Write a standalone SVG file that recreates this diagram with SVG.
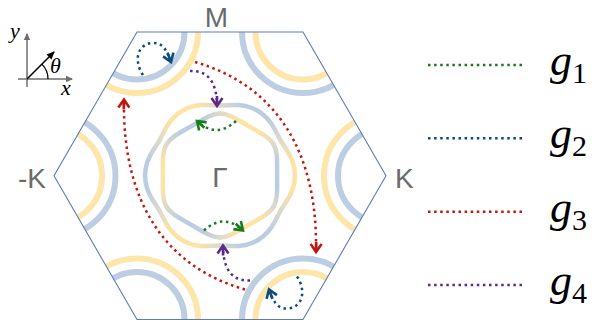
<svg xmlns="http://www.w3.org/2000/svg" width="592" height="324" viewBox="0 0 592 324">
<style>
.arcY{fill:none;stroke:#fee6ab;stroke-width:6}
.arcB{fill:none;stroke:#bdcee2;stroke-width:6}
.fs{fill:none;stroke-width:4.5;stroke-linecap:round;stroke-linejoin:round}
.dot{fill:none;stroke-width:2.5;stroke-dasharray:2.5 3.6}
.g1{stroke:#1a7b1f}.g2{stroke:#0b4d7e}.g3{stroke:#c0180d}.g4{stroke:#5c2b88}
.ax{fill:none;stroke:#6e6e6e;stroke-width:1.5}
</style>
<defs>
<clipPath id="hexclip"><polygon points="137,32 303,32 386,175.75 303,319.5 137,319.5 54,175.75"/></clipPath>
<linearGradient id="gy"><stop offset="0" stop-color="#dcdacb"/><stop offset="0.28" stop-color="#fee3a4"/><stop offset="0.72" stop-color="#fee3a4"/><stop offset="1" stop-color="#dcdacb"/></linearGradient>
<linearGradient id="gb"><stop offset="0" stop-color="#dcdacb"/><stop offset="0.28" stop-color="#bccde2"/><stop offset="0.72" stop-color="#bccde2"/><stop offset="1" stop-color="#dcdacb"/></linearGradient>
<linearGradient id="oA" href="#gy" gradientUnits="userSpaceOnUse" x1="280.62" y1="210.5" x2="280.62" y2="140.5"/>
<linearGradient id="oB" href="#gb" gradientUnits="userSpaceOnUse" x1="280.62" y1="140.5" x2="220" y2="105.5"/>
<linearGradient id="oC" href="#gy" gradientUnits="userSpaceOnUse" x1="220" y1="105.5" x2="159.38" y2="140.5"/>
<linearGradient id="oD" href="#gb" gradientUnits="userSpaceOnUse" x1="159.38" y1="140.5" x2="159.38" y2="210.5"/>
<linearGradient id="oE" href="#gy" gradientUnits="userSpaceOnUse" x1="159.38" y1="210.5" x2="220" y2="245.5"/>
<linearGradient id="oF" href="#gb" gradientUnits="userSpaceOnUse" x1="220" y1="245.5" x2="280.62" y2="210.5"/>
<linearGradient id="iA" href="#gb" gradientUnits="userSpaceOnUse" x1="273.69" y1="206.5" x2="273.69" y2="144.5"/>
<linearGradient id="iB" href="#gy" gradientUnits="userSpaceOnUse" x1="273.69" y1="144.5" x2="220" y2="113.5"/>
<linearGradient id="iC" href="#gb" gradientUnits="userSpaceOnUse" x1="220" y1="113.5" x2="166.31" y2="144.5"/>
<linearGradient id="iD" href="#gy" gradientUnits="userSpaceOnUse" x1="166.31" y1="144.5" x2="166.31" y2="206.5"/>
<linearGradient id="iE" href="#gb" gradientUnits="userSpaceOnUse" x1="166.31" y1="206.5" x2="220" y2="237.5"/>
<linearGradient id="iF" href="#gy" gradientUnits="userSpaceOnUse" x1="220" y1="237.5" x2="273.69" y2="206.5"/>
<marker id="m1" markerUnits="userSpaceOnUse" orient="auto" overflow="visible"><path d="M-8,-5.5 L0,0 L-8,5.5 M-10,0 L0,0" fill="none" stroke="#1a7b1f" stroke-width="2.6"/></marker>
<marker id="m2" markerUnits="userSpaceOnUse" orient="auto" overflow="visible"><path d="M-8,-5.5 L0,0 L-8,5.5 M-10,0 L0,0" fill="none" stroke="#0b4d7e" stroke-width="2.6"/></marker>
<marker id="m3" markerUnits="userSpaceOnUse" orient="auto" overflow="visible"><path d="M-8,-5.5 L0,0 L-8,5.5 M-10,0 L0,0" fill="none" stroke="#c0180d" stroke-width="2.6"/></marker>
<marker id="m4" markerUnits="userSpaceOnUse" orient="auto" overflow="visible"><path d="M-8,-5.5 L0,0 L-8,5.5 M-10,0 L0,0" fill="none" stroke="#5c2b88" stroke-width="2.6"/></marker>
<marker id="mg" markerUnits="userSpaceOnUse" orient="auto" overflow="visible"><path d="M1,0 L-6,-3.2 L-6,3.2 Z" fill="#6e6e6e"/></marker>
<marker id="mk" markerUnits="userSpaceOnUse" orient="auto" overflow="visible"><path d="M1,0 L-7,-3.5 L-7,3.5 Z" fill="#000"/></marker>
</defs>

<g id="axes">
<line class="ax" x1="27" y1="87" x2="27" y2="34" marker-end="url(#mg)"/>
<line class="ax" x1="18" y1="79" x2="72" y2="79" marker-end="url(#mg)"/>
<line x1="27" y1="79" x2="54" y2="52" stroke="#000" stroke-width="1.6" marker-end="url(#mk)"/>
<path d="M48,79 A21,21 0 0 0 41.85,64.15" fill="none" stroke="#000" stroke-width="1.3"/>
<text font-family="'Liberation Serif', serif" font-style="italic" x="10" y="38" font-size="22">y</text>
<text font-family="'Liberation Serif', serif" font-style="italic" x="61" y="95" font-size="22">x</text>
<text font-family="'Liberation Serif', serif" font-style="italic" x="50" y="73" font-size="22">θ</text>
</g>

<g id="valleys" clip-path="url(#hexclip)">
<circle class="arcB" cx="137" cy="32" r="47.5"/><circle class="arcY" cx="137" cy="32" r="61"/>
<circle class="arcY" cx="303" cy="32" r="47.5"/><circle class="arcB" cx="303" cy="32" r="61"/>
<circle class="arcB" cx="386" cy="175.75" r="48"/><circle class="arcY" cx="386" cy="175.75" r="62"/>
<circle class="arcY" cx="303" cy="319.5" r="47.5"/><circle class="arcB" cx="303" cy="319.5" r="61"/>
<circle class="arcB" cx="137" cy="319.5" r="47.5"/><circle class="arcY" cx="137" cy="319.5" r="61"/>
<circle class="arcY" cx="54" cy="175.75" r="48"/><circle class="arcB" cx="54" cy="175.75" r="61.5"/>
</g>

<g id="bz">
<polygon points="137,32 303,32 386,175.75 303,319.5 137,319.5 54,175.75" fill="none" stroke="#5a7cbc" stroke-width="1.1"/>
</g>

<g id="gamma-pocket">
<path class="fs" stroke="url(#oA)" d="M280.62,210.5 L283.89,205.29 L287.34,200.01 L290.44,194.37 L292.88,188.35 L294.42,182.01 L294.94,175.5 L294.42,168.99 L292.88,162.65 L290.44,156.63 L287.34,150.99 L283.89,145.71 L280.62,140.5"/>
<path class="fs" stroke="url(#oB)" d="M280.62,140.5 L277.75,135.06 L274.89,129.44 L271.57,123.93 L267.57,118.82 L262.85,114.31 L257.47,110.6 L251.57,107.8 L245.31,105.96 L238.87,105.06 L232.44,104.93 L226.15,105.27 L220,105.5"/>
<path class="fs" stroke="url(#oC)" d="M220,105.5 L213.85,105.27 L207.56,104.93 L201.13,105.06 L194.69,105.96 L188.43,107.8 L182.53,110.6 L177.15,114.31 L172.43,118.82 L168.43,123.93 L165.11,129.44 L162.25,135.06 L159.38,140.5"/>
<path class="fs" stroke="url(#oD)" d="M159.38,140.5 L156.11,145.71 L152.66,150.99 L149.56,156.63 L147.12,162.65 L145.58,168.99 L145.06,175.5 L145.58,182.01 L147.12,188.35 L149.56,194.37 L152.66,200.01 L156.11,205.29 L159.38,210.5"/>
<path class="fs" stroke="url(#oE)" d="M159.38,210.5 L162.25,215.94 L165.11,221.56 L168.43,227.07 L172.43,232.18 L177.15,236.69 L182.53,240.4 L188.43,243.2 L194.69,245.04 L201.13,245.94 L207.56,246.07 L213.85,245.73 L220,245.5"/>
<path class="fs" stroke="url(#oF)" d="M220,245.5 L226.15,245.73 L232.44,246.07 L238.87,245.94 L245.31,245.04 L251.57,243.2 L257.47,240.4 L262.85,236.69 L267.57,232.18 L271.57,227.07 L274.89,221.56 L277.75,215.94 L280.62,210.5"/>
<path class="fs" stroke="url(#iA)" d="M273.69,206.5 L275.74,201.49 L276.7,196.14 L277.06,190.79 L277.12,185.57 L277.08,180.5 L277.06,175.5 L277.08,170.5 L277.12,165.43 L277.06,160.21 L276.7,154.86 L275.74,149.51 L273.69,144.5"/>
<path class="fs" stroke="url(#iB)" d="M273.69,144.5 L270.38,140.22 L266.22,136.71 L261.77,133.73 L257.28,131.07 L252.87,128.56 L248.53,126.08 L244.21,123.57 L239.84,121 L235.29,118.44 L230.47,116.08 L225.36,114.23 L220,113.5"/>
<path class="fs" stroke="url(#iC)" d="M220,113.5 L214.64,114.23 L209.53,116.08 L204.71,118.44 L200.16,121 L195.79,123.57 L191.47,126.08 L187.13,128.56 L182.72,131.07 L178.23,133.73 L173.78,136.71 L169.62,140.22 L166.31,144.5"/>
<path class="fs" stroke="url(#iD)" d="M166.31,144.5 L164.26,149.51 L163.3,154.86 L162.94,160.21 L162.88,165.43 L162.92,170.5 L162.94,175.5 L162.92,180.5 L162.88,185.57 L162.94,190.79 L163.3,196.14 L164.26,201.49 L166.31,206.5"/>
<path class="fs" stroke="url(#iE)" d="M166.31,206.5 L169.62,210.78 L173.78,214.29 L178.23,217.27 L182.72,219.93 L187.13,222.44 L191.47,224.92 L195.79,227.43 L200.16,230 L204.71,232.56 L209.53,234.92 L214.64,236.77 L220,237.5"/>
<path class="fs" stroke="url(#iF)" d="M220,237.5 L225.36,236.77 L230.47,234.92 L235.29,232.56 L239.84,230 L244.21,227.43 L248.53,224.92 L252.87,222.44 L257.28,219.93 L261.77,217.27 L266.22,214.29 L270.38,210.78 L273.69,206.5"/>
</g>

<g id="labels" font-family="'Liberation Sans', Arial, sans-serif" fill="#6b6b6b" font-size="28">
<text x="216.5" y="27" text-anchor="middle">M</text>
<text x="220" y="187" text-anchor="middle">Γ</text>
<text x="395" y="188">K</text>
<text x="46" y="188" text-anchor="end">-K</text>
</g>

<g id="connectors">
<path class="dot g2" d="M143,75 C133,60 138,44 152,43 C163,42 167,51 171,62" marker-end="url(#m2)"/>
<path class="dot g2" d="M297,276.5 C307,291.5 302,307.5 288,308.5 C277,309.5 273,300.5 269,289.5" marker-end="url(#m2)"/>
<path class="dot g1" d="M236,121 Q216.5,139 197,121" marker-end="url(#m1)"/>
<path class="dot g1" d="M204,230.5 Q223.5,212.5 243,230.5" marker-end="url(#m1)"/>
<path class="dot g4" d="M190,71 C206,70 217,80 217,106" marker-end="url(#m4)"/>
<path class="dot g4" d="M250,280.5 C234,281.5 223,271.5 223,245.5" marker-end="url(#m4)"/>
<path class="dot g3" d="M195,62 C275,85 318,150 316,252" marker-end="url(#m3)"/>
<path class="dot g3" d="M245,289.5 C165,266.5 122,201.5 124,99.5" marker-end="url(#m3)"/>
</g>

<g id="legend">
<line class="dot g1" x1="428" y1="65" x2="524" y2="65"/>
<line class="dot g2" x1="428" y1="138.3" x2="524" y2="138.3"/>
<line class="dot g3" x1="428" y1="211.7" x2="524" y2="211.7"/>
<line class="dot g4" x1="428" y1="285" x2="524" y2="285"/>
<g font-family="'Liberation Serif', serif" fill="#000">
<text x="550" y="75" font-size="44"><tspan font-style="italic">g</tspan><tspan font-size="30" dy="8">1</tspan></text>
<text x="550" y="148.3" font-size="44"><tspan font-style="italic">g</tspan><tspan font-size="30" dy="8">2</tspan></text>
<text x="550" y="221.7" font-size="44"><tspan font-style="italic">g</tspan><tspan font-size="30" dy="8">3</tspan></text>
<text x="550" y="295" font-size="44"><tspan font-style="italic">g</tspan><tspan font-size="30" dy="8">4</tspan></text>
</g>
</g>
</svg>
